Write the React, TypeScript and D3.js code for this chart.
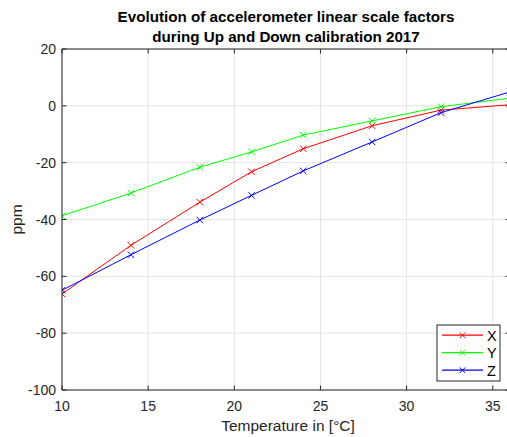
import React from "react";
import * as d3 from "d3";

const temps = [10, 14, 18, 21, 24, 28, 32, 36];
const seriesX = [-66.2, -49.1, -33.9, -23.2, -15.1, -7.0, -1.5, 0.4];
const seriesY = [-38.7, -30.7, -21.6, -16.2, -10.3, -5.3, -0.3, 2.7];
const seriesZ = [-64.9, -52.4, -40.2, -31.5, -22.9, -12.7, -2.4, 4.9];
const seriesNames = ["X", "Y", "Z"];
const seriesColors = ["#ff0000", "#00ff00", "#0000ff"];
const xTicks = [10, 15, 20, 25, 30, 35];
const yTicks = [20, 0, -20, -40, -60, -80, -100];
const titleLines = [
  "Evolution of accelerometer linear scale factors",
  "during Up and Down calibration 2017",
];

export default function App() {
  const W = 507, H = 437;
  const left = 62, right = 510, top = 49, bottom = 390;
  const x = d3.scaleLinear().domain([10, 36]).range([left, right]);
  const y = d3.scaleLinear().domain([-100, 20]).range([bottom, top]);
  const all = [seriesX, seriesY, seriesZ];
  const line = d3
    .line<number>()
    .x((_, i) => x(temps[i]))
    .y((d) => y(d));
  const font = "'Liberation Sans', Arial, Helvetica, sans-serif";
  const axisColor = "#262626";
  const tl = 4.5;
  const cross = (cx: number, cy: number, color: string, s = 3.2) => (
    <path
      d={`M${cx - s},${cy - s}L${cx + s},${cy + s}M${cx - s},${cy + s}L${cx + s},${cy - s}`}
      stroke={color}
      strokeWidth={1}
      fill="none"
    />
  );
  const legX = 437, legY = 325, legW = 63, legH = 56;
  return (
    <svg
      width={W}
      height={H}
      style={{ position: "absolute", left: 0, top: 0, background: "#fff" }}
      fontFamily={font}
    >
      <rect x={0} y={0} width={W} height={H} fill="#fff" />
      {xTicks.map((t) => (
        <line key={"gx" + t} x1={x(t)} x2={x(t)} y1={top} y2={bottom} stroke="#e3e3e3" strokeWidth={1} />
      ))}
      {yTicks.map((t) => (
        <line key={"gy" + t} x1={left} x2={right} y1={y(t)} y2={y(t)} stroke="#e3e3e3" strokeWidth={1} />
      ))}
      <defs>
        <clipPath id="plotclip">
          <rect x={left} y={top} width={right - left} height={bottom - top} />
        </clipPath>
      </defs>
      <g clipPath="url(#plotclip)">
        {all.map((s, k) => (
          <g key={"s" + k}>
            <path d={line(s) || ""} stroke={seriesColors[k]} strokeWidth={1} fill="none" />
            {s.map((v, i) => (
              <g key={i}>{cross(x(temps[i]), y(v), seriesColors[k])}</g>
            ))}
          </g>
        ))}
      </g>
      <line x1={left} x2={right} y1={bottom} y2={bottom} stroke={axisColor} strokeWidth={1} />
      <line x1={left} x2={left} y1={top} y2={bottom} stroke={axisColor} strokeWidth={1} />
      <line x1={left} x2={right} y1={top} y2={top} stroke={axisColor} strokeWidth={1} />
      <line x1={right} x2={right} y1={top} y2={bottom} stroke={axisColor} strokeWidth={1} />
      {xTicks.map((t) => (
        <g key={"xt" + t}>
          <line x1={x(t)} x2={x(t)} y1={bottom} y2={bottom - tl} stroke={axisColor} />
          <line x1={x(t)} x2={x(t)} y1={top} y2={top + tl} stroke={axisColor} />
          <text x={x(t)} y={bottom + 21} textAnchor="middle" fontSize={14} fill={axisColor}>
            {t}
          </text>
        </g>
      ))}
      {yTicks.map((t) => (
        <g key={"yt" + t}>
          <line x1={left} x2={left + tl} y1={y(t)} y2={y(t)} stroke={axisColor} />
          <line x1={right} x2={right - tl} y1={y(t)} y2={y(t)} stroke={axisColor} />
          <text x={left - 6} y={y(t) + 5} textAnchor="end" fontSize={14} fill={axisColor}>
            {t}
          </text>
        </g>
      ))}
      <text x={(left + right) / 2 + 2} y={431} textAnchor="middle" fontSize={15.5} fill={axisColor}>
        Temperature in [°C]
      </text>
      <text
        transform={`translate(22,${(top + bottom) / 2}) rotate(-90)`}
        textAnchor="middle"
        fontSize={15.5}
        fill={axisColor}
      >
        ppm
      </text>
      {titleLines.map((l, i) => (
        <text
          key={"t" + i}
          x={(left + right) / 2}
          y={22 + i * 20}
          textAnchor="middle"
          fontSize={15.2}
          fontWeight="bold"
          fill="#000"
        >
          {l}
        </text>
      ))}
      <rect x={legX} y={legY} width={legW} height={legH} fill="#fff" stroke={axisColor} strokeWidth={1} />
      {seriesNames.map((n, k) => {
        const ly = legY + 10.2 + k * 17.5;
        return (
          <g key={"l" + k}>
            <line x1={legX + 5} x2={legX + 46} y1={ly} y2={ly} stroke={seriesColors[k]} strokeWidth={1.2} />
            {cross(legX + 25.5, ly, seriesColors[k], 2.8)}
            <text x={legX + 50} y={ly + 5.5} fontSize={14.5} fill="#000">
              {n}
            </text>
          </g>
        );
      })}
    </svg>
  );
}
